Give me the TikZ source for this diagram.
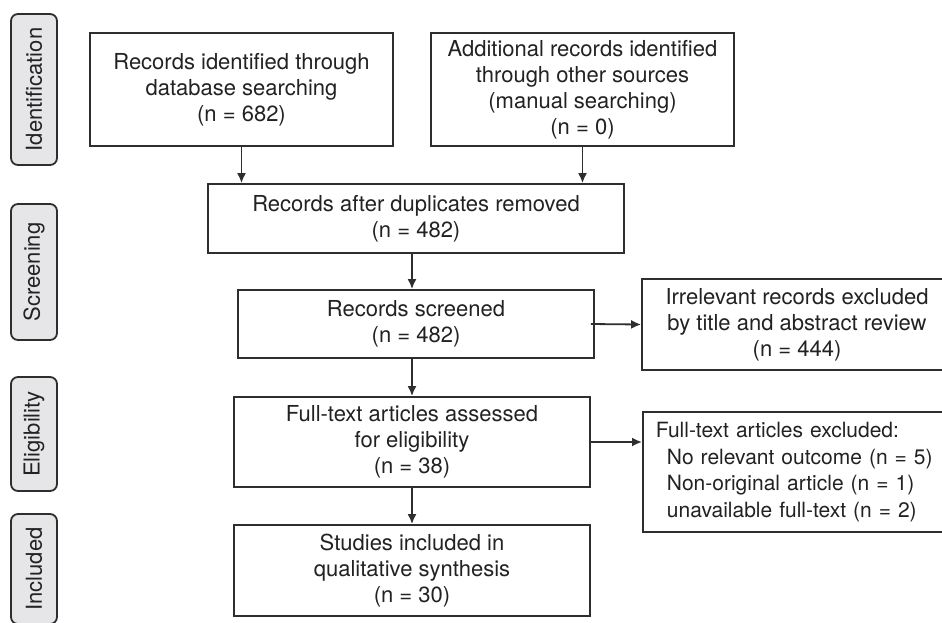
\documentclass[tikz,border=0pt]{standalone}
\usepackage{fontspec}
\setmainfont{TeX Gyre Heros}
\usetikzlibrary{arrows.meta, positioning}
\definecolor{linegray}{HTML}{2E2E2E}
\definecolor{textgray}{HTML}{222222}
\definecolor{stagegray}{HTML}{E6E6E8}

\begin{document}
\begin{tikzpicture}
	[%
	x=1pt, y=-1pt,%
	box/.style  ={rectangle,	draw=linegray,	fill=white,		line width=1.8pt,	inner sep=0pt,	align=center,	text=textgray,	font=\fontsize{22}{26}\selectfont},%
	stage/.style={rectangle,	draw=linegray,	fill=stagegray,	line width=1.8pt,	inner sep=0pt,	rounded corners=7pt,	rotate=90,	minimum height=46pt,	text=textgray,	font=\fontsize{22}{26}\selectfont},%
	flow/.style ={draw=linegray,	line width=1.8pt,	-{Latex[length=10pt,width=9pt]}},%
	]

	\newcommand\lstage{34}
	\newcommand\lmid{412}
	\newcommand\lside{797}

	\useasboundingbox (0,0) rectangle (942,622);

	% stages
	\node (identification)	at (\lstage,89.5)	[stage, minimum width=151pt] {Identification};
	\node (screening)		at (\lstage,272)	[stage, minimum width=136pt] {Screening};
	\node (eligibility)		at (\lstage,434)	[stage, minimum width=114pt] {Eligibility};
	\node (included)		at (\lstage,569)	[stage, minimum width=110pt] {Included};

	% boxes
	\node (database)	at (241.5,89.5)	[box, minimum width=303pt, minimum height=113pt] {Records identified through\\database searching\\(n = 682)};
	\node (other)		at (582.5,89.5)	[box, minimum width=303pt, minimum height=113pt] {Additional records identified\\through other sources\\(manual searching)\\(n = 0)};
	\node (duplicates)	at (416,218.5)	[box, minimum width=416pt, minimum height=69pt] {Records after duplicates removed\\(n = 482)};
	\node (screened)	at (416,324)	[box, minimum width=356pt, minimum height=68pt] {Records screened\\(n = 482)};
	\node (irrelevant)	at (\lside,324.5)	[box, minimum width=310pt, minimum height=91pt] {Irrelevant records excluded\\by title and abstract review\\(n = 444)};
	\node (assessed)	at (\lmid,442)	[box, minimum width=356pt, minimum height=90pt] {Full-text articles assessed\\for eligibility\\(n = 38)};
	\node (excluded)	at (642,472)	[box, anchor=west, minimum height=120pt, text width=300pt, inner xsep=13pt, align=left, font=\fontsize{21}{26.5}\selectfont] {Full-text articles excluded:\\\hspace*{11pt}No relevant outcome (n = 5)\\\hspace*{11pt}Non-original article (n = 1)\\\hspace*{11pt}unavailable full-text (n = 2)};
	\node (synthesis)	at (\lmid,570.5)	[box, minimum width=356pt, minimum height=91pt] {Studies included in\\qualitative synthesis\\(n = 30)};

	% interconnections
	\draw [flow] (database.south)	-- (database.south |- duplicates.north);
	\draw [flow] (other.south)		-- (other.south |- duplicates.north);
	\draw [flow] (assessed.north |- duplicates.south)	-- (assessed.north |- screened.north);
	\draw [flow] ([xshift=-4pt]screened.east)	-- (irrelevant.west);
	\draw [flow] (screened.south -| assessed.north)	-- (assessed.north);
	\draw [flow] (assessed.east)	-- (assessed.east -| excluded.west);
	\draw [flow] (assessed.south)	-- (synthesis.north);

\end{tikzpicture}
\end{document}
